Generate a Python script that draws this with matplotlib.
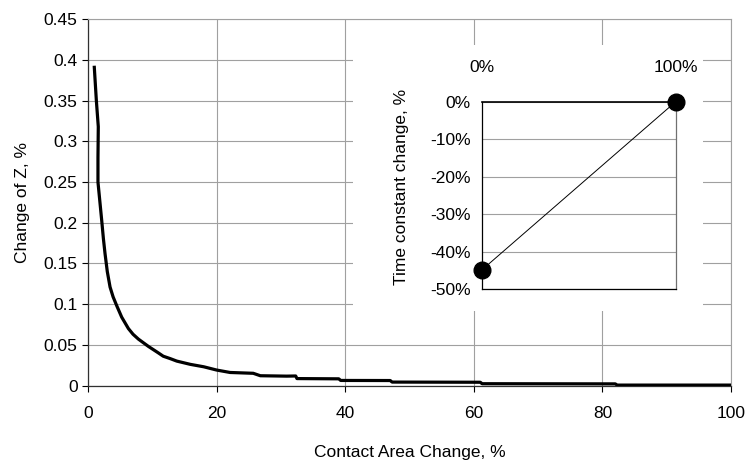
import matplotlib
matplotlib.use("Agg")
import matplotlib.pyplot as plt
from matplotlib.ticker import FuncFormatter

plt.rcParams['font.family'] = ['Liberation Sans', 'DejaVu Sans']
plt.rcParams['font.size'] = 12

# Main curve: contact area change (%) vs change of Z (%)
area_change = [0.98, 1.3, 1.6, 1.55, 1.55, 2.13, 2.4, 2.65, 3.0, 3.43, 3.9, 4.47,
               5.24, 6.28, 7.0, 7.84, 9.4, 10.95, 11.7, 12.8, 13.8, 15.9, 18.0,
               20.0, 22.1, 25.7, 26.8, 30.9, 32.3, 32.5, 39.0, 39.3, 47.0, 47.3,
               61.0, 61.3, 82.0, 82.3, 100.0]
z_change = [0.391, 0.35, 0.318, 0.28, 0.25, 0.203, 0.18, 0.162, 0.14, 0.121, 0.109,
            0.098, 0.084, 0.070, 0.063, 0.057, 0.048, 0.040, 0.036, 0.033, 0.030,
            0.026, 0.023, 0.019, 0.016, 0.015, 0.012, 0.0115, 0.0117, 0.0085,
            0.0082, 0.0062, 0.0061, 0.0042, 0.0040, 0.0022, 0.0020, 0.0005, 0.0005]

x_ticks = [0, 20, 40, 60, 80, 100]
y_ticks = [0, 0.05, 0.1, 0.15, 0.2, 0.25, 0.3, 0.35, 0.4, 0.45]

# Inset: time constant change
inset_x = [0, 100]
inset_y = [-45, 0]
inset_xticks = [0, 100]
inset_yticks = [-50, -40, -30, -20, -10, 0]

W, H = 747, 468
fig = plt.figure(figsize=(W / 100, H / 100), dpi=100)

def rect(l, t, r, b):
    return [l / W, (H - b) / H, (r - l) / W, (b - t) / H]

grid_col = '#a0a0a0'
ax = fig.add_axes(rect(88, 19.3, 731, 385.5))
ax.plot(area_change, z_change, color='black', lw=2.3, solid_joinstyle='round', zorder=3)
ax.set_xlim(0, 100)
ax.set_ylim(0, 0.45)
ax.set_xticks(x_ticks)
ax.set_yticks(y_ticks)
ax.yaxis.set_major_formatter(FuncFormatter(lambda v, p: '%g' % round(v, 2)))
ax.grid(True, color=grid_col, lw=0.8)
ax.set_axisbelow(True)
for s in ['top', 'right']:
    ax.spines[s].set_color(grid_col)
    ax.spines[s].set_linewidth(0.8)
for s in ['left', 'bottom']:
    ax.spines[s].set_color('#303030')
    ax.spines[s].set_linewidth(0.9)
ax.tick_params(axis='y', length=4.5, width=0.8, pad=3, labelsize=12.5)
ax.tick_params(axis='x', length=4.5, width=0.8, pad=10, labelsize=12.5)
ax.set_xlabel('Contact Area Change, %', fontsize=12.5)
ax.xaxis.label.set_va('center')
ax.xaxis.set_label_coords(0.5, -0.184)
ax.set_ylabel('Change of Z, %', fontsize=12.5)
ax.yaxis.label.set_va('center')
ax.yaxis.set_label_coords(-0.1026, 0.5)

# white background behind inset
bg = fig.add_axes(rect(353, 45, 703, 311))
bg.set_facecolor('white')
bg.set_xticks([])
bg.set_yticks([])
for s in bg.spines.values():
    s.set_visible(False)
bg.set_zorder(1)

ins = fig.add_axes(rect(481.5, 101.7, 675.7, 289))
ins.set_zorder(2)
ins.plot(inset_x, inset_y, color='black', lw=0.7, marker='o', markersize=12,
         clip_on=False, zorder=3)
ins.set_xlim(0, 100)
ins.set_ylim(-50, 0)
ins.set_xticks(inset_xticks)
ins.set_xticklabels(['%d%%' % v for v in inset_xticks])
ins.set_yticks(inset_yticks)
ins.set_yticklabels(['%d%%' % v for v in inset_yticks])
ins.xaxis.tick_top()
ins.tick_params(axis='x', length=0, pad=19, labelsize=12.5)
ins.tick_params(axis='y', length=0, pad=8, labelsize=12.5)
ins.yaxis.grid(True, color=grid_col, lw=0.8)
ins.set_axisbelow(True)
for s in ['left', 'bottom', 'top']:
    ins.spines[s].set_color('black')
    ins.spines[s].set_linewidth(0.9)
ins.spines['top'].set_linewidth(1.2)
ins.spines['right'].set_color('#707070')
ins.spines['right'].set_linewidth(0.9)
ins.set_ylabel('Time constant change, %', fontsize=12.5)
ins.yaxis.label.set_va('center')
ins.yaxis.set_label_coords(-0.411, 0.547)

fig.savefig('out.png', dpi=100)
